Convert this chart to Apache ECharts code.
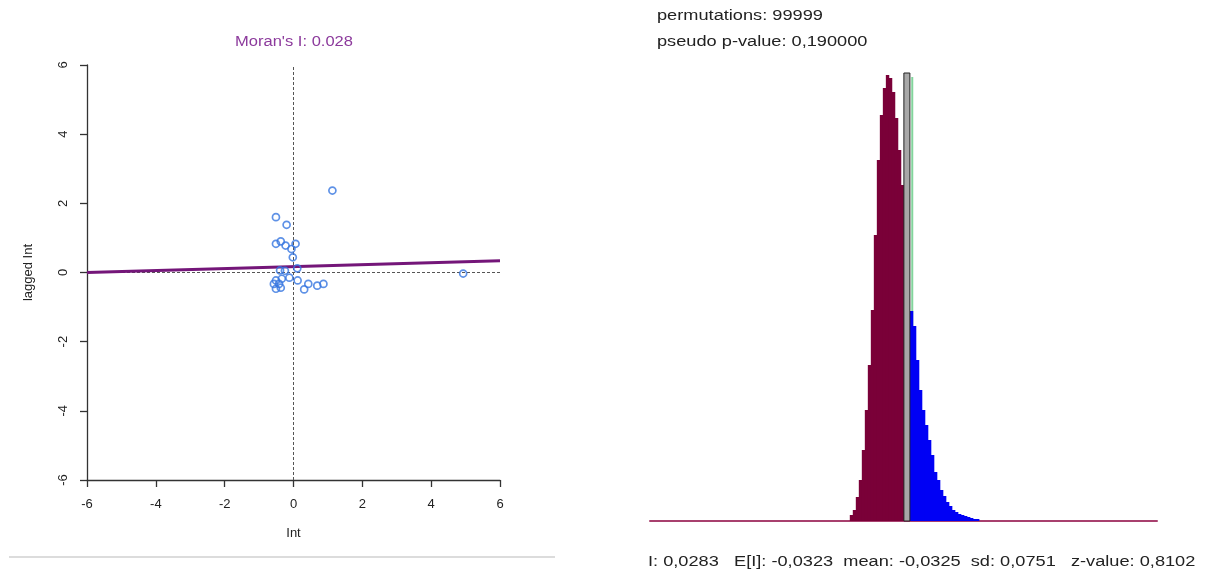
<!DOCTYPE html>
<html>
<head>
<meta charset="utf-8">
<script src="https://cdn.jsdelivr.net/npm/echarts@6/dist/echarts.min.js"></script>
<style>
  html, body { margin: 0; padding: 0; background: #fff; }
  #chart { width: 1214px; height: 575px; }
</style>
</head>
<body>
<div id="chart"></div>
<script>
// Moran scatter plot: standardized Int vs spatially lagged Int
const moranPoints = [
    [1.13, 2.37], [-0.51, 1.60], [-0.20, 1.38], [-0.51, 0.83], [-0.37, 0.90],
    [-0.23, 0.78], [0.06, 0.83], [-0.06, 0.68], [-0.02, 0.44], [0.11, 0.12],
    [-0.39, 0.06], [-0.25, 0.05], [-0.51, -0.23], [-0.34, -0.18], [-0.12, -0.15],
    [0.12, -0.23], [-0.57, -0.33], [-0.42, -0.33], [-0.51, -0.47], [-0.37, -0.44],
    [0.43, -0.33], [0.31, -0.49], [0.69, -0.38], [0.87, -0.33], [4.93, -0.03]
];
const moranSlope = 0.028;
const moranIntercept = 0.17;
const regX = [-6, 6];

// permutation reference distribution (counts per bin)
const binStart = -0.138;
const binWidth = 0.008;
const lowerCounts = [60, 110, 240, 410, 710, 1110, 1560, 2110, 2860, 3610, 4060, 4330, 4460, 4430, 4290, 4030, 3710, 3360];
const observedBin = [0.006, 0.022, 4480];
const upperCounts = [2100, 1950, 1610, 1310, 1110, 960, 810, 660, 490, 410, 310, 250, 190, 150, 110, 90, 70, 60, 50, 40, 30, 20, 20];
const observedI = 0.0283;
const histMax = 4480;

const statsText = 'I: 0,0283   E[I]: -0,0323  mean: -0,0325  sd: 0,0751   z-value: 0,8102';

const lowerBins = lowerCounts.map((c, i) => [binStart + i * binWidth, binStart + (i + 1) * binWidth, c]);
const upperStart = observedBin[1];
const upperBins = upperCounts.map((c, i) => [upperStart + i * binWidth, upperStart + (i + 1) * binWidth, c]);

function renderBin(params, api) {
    const p0 = api.coord([api.value(0), api.value(2)]);
    const p1 = api.coord([api.value(1), 0]);
    return {
        type: 'rect',
        shape: { x: p0[0], y: p0[1], width: p1[0] - p0[0] + 0.4, height: p1[1] - p0[1] },
        style: api.style()
    };
}

const chart = echarts.init(document.getElementById('chart'));
const font = 'Liberation Sans, Arial, sans-serif';

const option = {
    animation: false,
    backgroundColor: '#fff',
    grid: [
        { left: 87, right: 714, top: 65, bottom: 95, outerBoundsMode: 'none' },
        { left: 650, right: 57, top: 73, bottom: 54, outerBoundsMode: 'none' }
    ],
    xAxis: [
        {
            gridIndex: 0, type: 'value', min: -6, max: 6, interval: 2,
            name: 'Int', nameLocation: 'middle', nameGap: 47,
            nameTextStyle: { fontFamily: font, fontSize: 13, color: '#222' },
            axisLine: { show: true, onZero: false, lineStyle: { color: '#333', width: 1.3 } },
            axisTick: { show: true, inside: false, length: 7, lineStyle: { color: '#333', width: 1.3 } },
            axisLabel: { fontFamily: font, fontSize: 13, color: '#222', margin: 18 },
            splitLine: { show: false }
        },
        {
            gridIndex: 1, type: 'value', min: -0.67, max: 0.68,
            axisLine: { show: true, onZero: false, lineStyle: { color: '#a8406e', width: 2 } },
            axisTick: { show: false }, axisLabel: { show: false }, splitLine: { show: false }
        }
    ],
    yAxis: [
        {
            gridIndex: 0, type: 'value', min: -6, max: 6, interval: 2,
            name: 'lagged Int', nameLocation: 'middle', nameGap: 52, nameRotate: 90,
            nameTextStyle: { fontFamily: font, fontSize: 13, color: '#222' },
            axisLine: { show: true, onZero: false, lineStyle: { color: '#333', width: 1.3 } },
            axisTick: { show: true, inside: false, length: 7, lineStyle: { color: '#333', width: 1.3 } },
            axisLabel: { fontFamily: font, fontSize: 13, color: '#222', margin: 17, rotate: 90 },
            splitLine: { show: false }
        },
        {
            gridIndex: 1, type: 'value', min: 0, max: histMax, show: false
        }
    ],
    series: [
        {
            type: 'line', xAxisIndex: 0, yAxisIndex: 0, z: 3,
            data: regX.map(x => [x, moranIntercept + moranSlope * x]),
            symbol: 'none',
            lineStyle: { color: '#741679', width: 3 },
            markLine: {
                silent: true, symbol: 'none', label: { show: false }, z: 1,
                lineStyle: { color: '#555', type: [3, 2], width: 1 },
                data: [{ xAxis: 0 }, { yAxis: 0 }]
            }
        },
        {
            type: 'scatter', xAxisIndex: 0, yAxisIndex: 0, z: 4,
            data: moranPoints,
            symbol: 'circle', symbolSize: 7,
            itemStyle: { color: 'rgba(255,255,255,0)', borderColor: '#3676e0', borderWidth: 1.7 }
        },
        {
            type: 'line', xAxisIndex: 1, yAxisIndex: 1, z: 1,
            data: [[observedI, 0], [observedI, 4440]],
            symbol: 'none',
            lineStyle: { color: '#82d49c', width: 2 }
        },
        {
            type: 'custom', xAxisIndex: 1, yAxisIndex: 1, z: 2,
            renderItem: renderBin, data: lowerBins,
            itemStyle: { color: '#7a0038' }
        },
        {
            type: 'custom', xAxisIndex: 1, yAxisIndex: 1, z: 2,
            renderItem: renderBin, data: upperBins,
            itemStyle: { color: '#0000f5' }
        },
        {
            type: 'custom', xAxisIndex: 1, yAxisIndex: 1, z: 3,
            renderItem: (params, api) => {
                const p0 = api.coord([api.value(0), api.value(2)]);
                const p1 = api.coord([api.value(1), 0]);
                return {
                    type: 'rect',
                    shape: { x: p0[0], y: p0[1], width: p1[0] - p0[0], height: p1[1] - p0[1] },
                    style: { fill: '#a8a8a8', stroke: '#222', lineWidth: 1 }
                };
            },
            data: [observedBin]
        }
    ],
    graphic: [
        {
            type: 'text', x: 294, y: 42, scaleX: 1.18,
            style: { text: "Moran's I: 0.028", fontFamily: font, fontSize: 14, fill: '#8c3a9c',
                align: 'center', verticalAlign: 'middle' }
        },
        {
            type: 'text', x: 657, y: 16, scaleX: 1.3,
            style: { text: 'permutations: 99999', fontFamily: font, fontSize: 14, fill: '#222',
                verticalAlign: 'middle' }
        },
        {
            type: 'text', x: 657, y: 42, scaleX: 1.3,
            style: { text: 'pseudo p-value: 0,190000', fontFamily: font, fontSize: 14, fill: '#222',
                verticalAlign: 'middle' }
        },
        {
            type: 'text', x: 648, y: 562, scaleX: 1.3,
            style: { text: statsText, fontFamily: font, fontSize: 14, fill: '#222',
                verticalAlign: 'middle' }
        },
        {
            type: 'line', shape: { x1: 9, y1: 557, x2: 555, y2: 557 },
            style: { stroke: '#dcdcdc', lineWidth: 2 }
        }
    ]
};

chart.setOption(option);
window.addEventListener('resize', () => chart.resize());
</script>
</body>
</html>
